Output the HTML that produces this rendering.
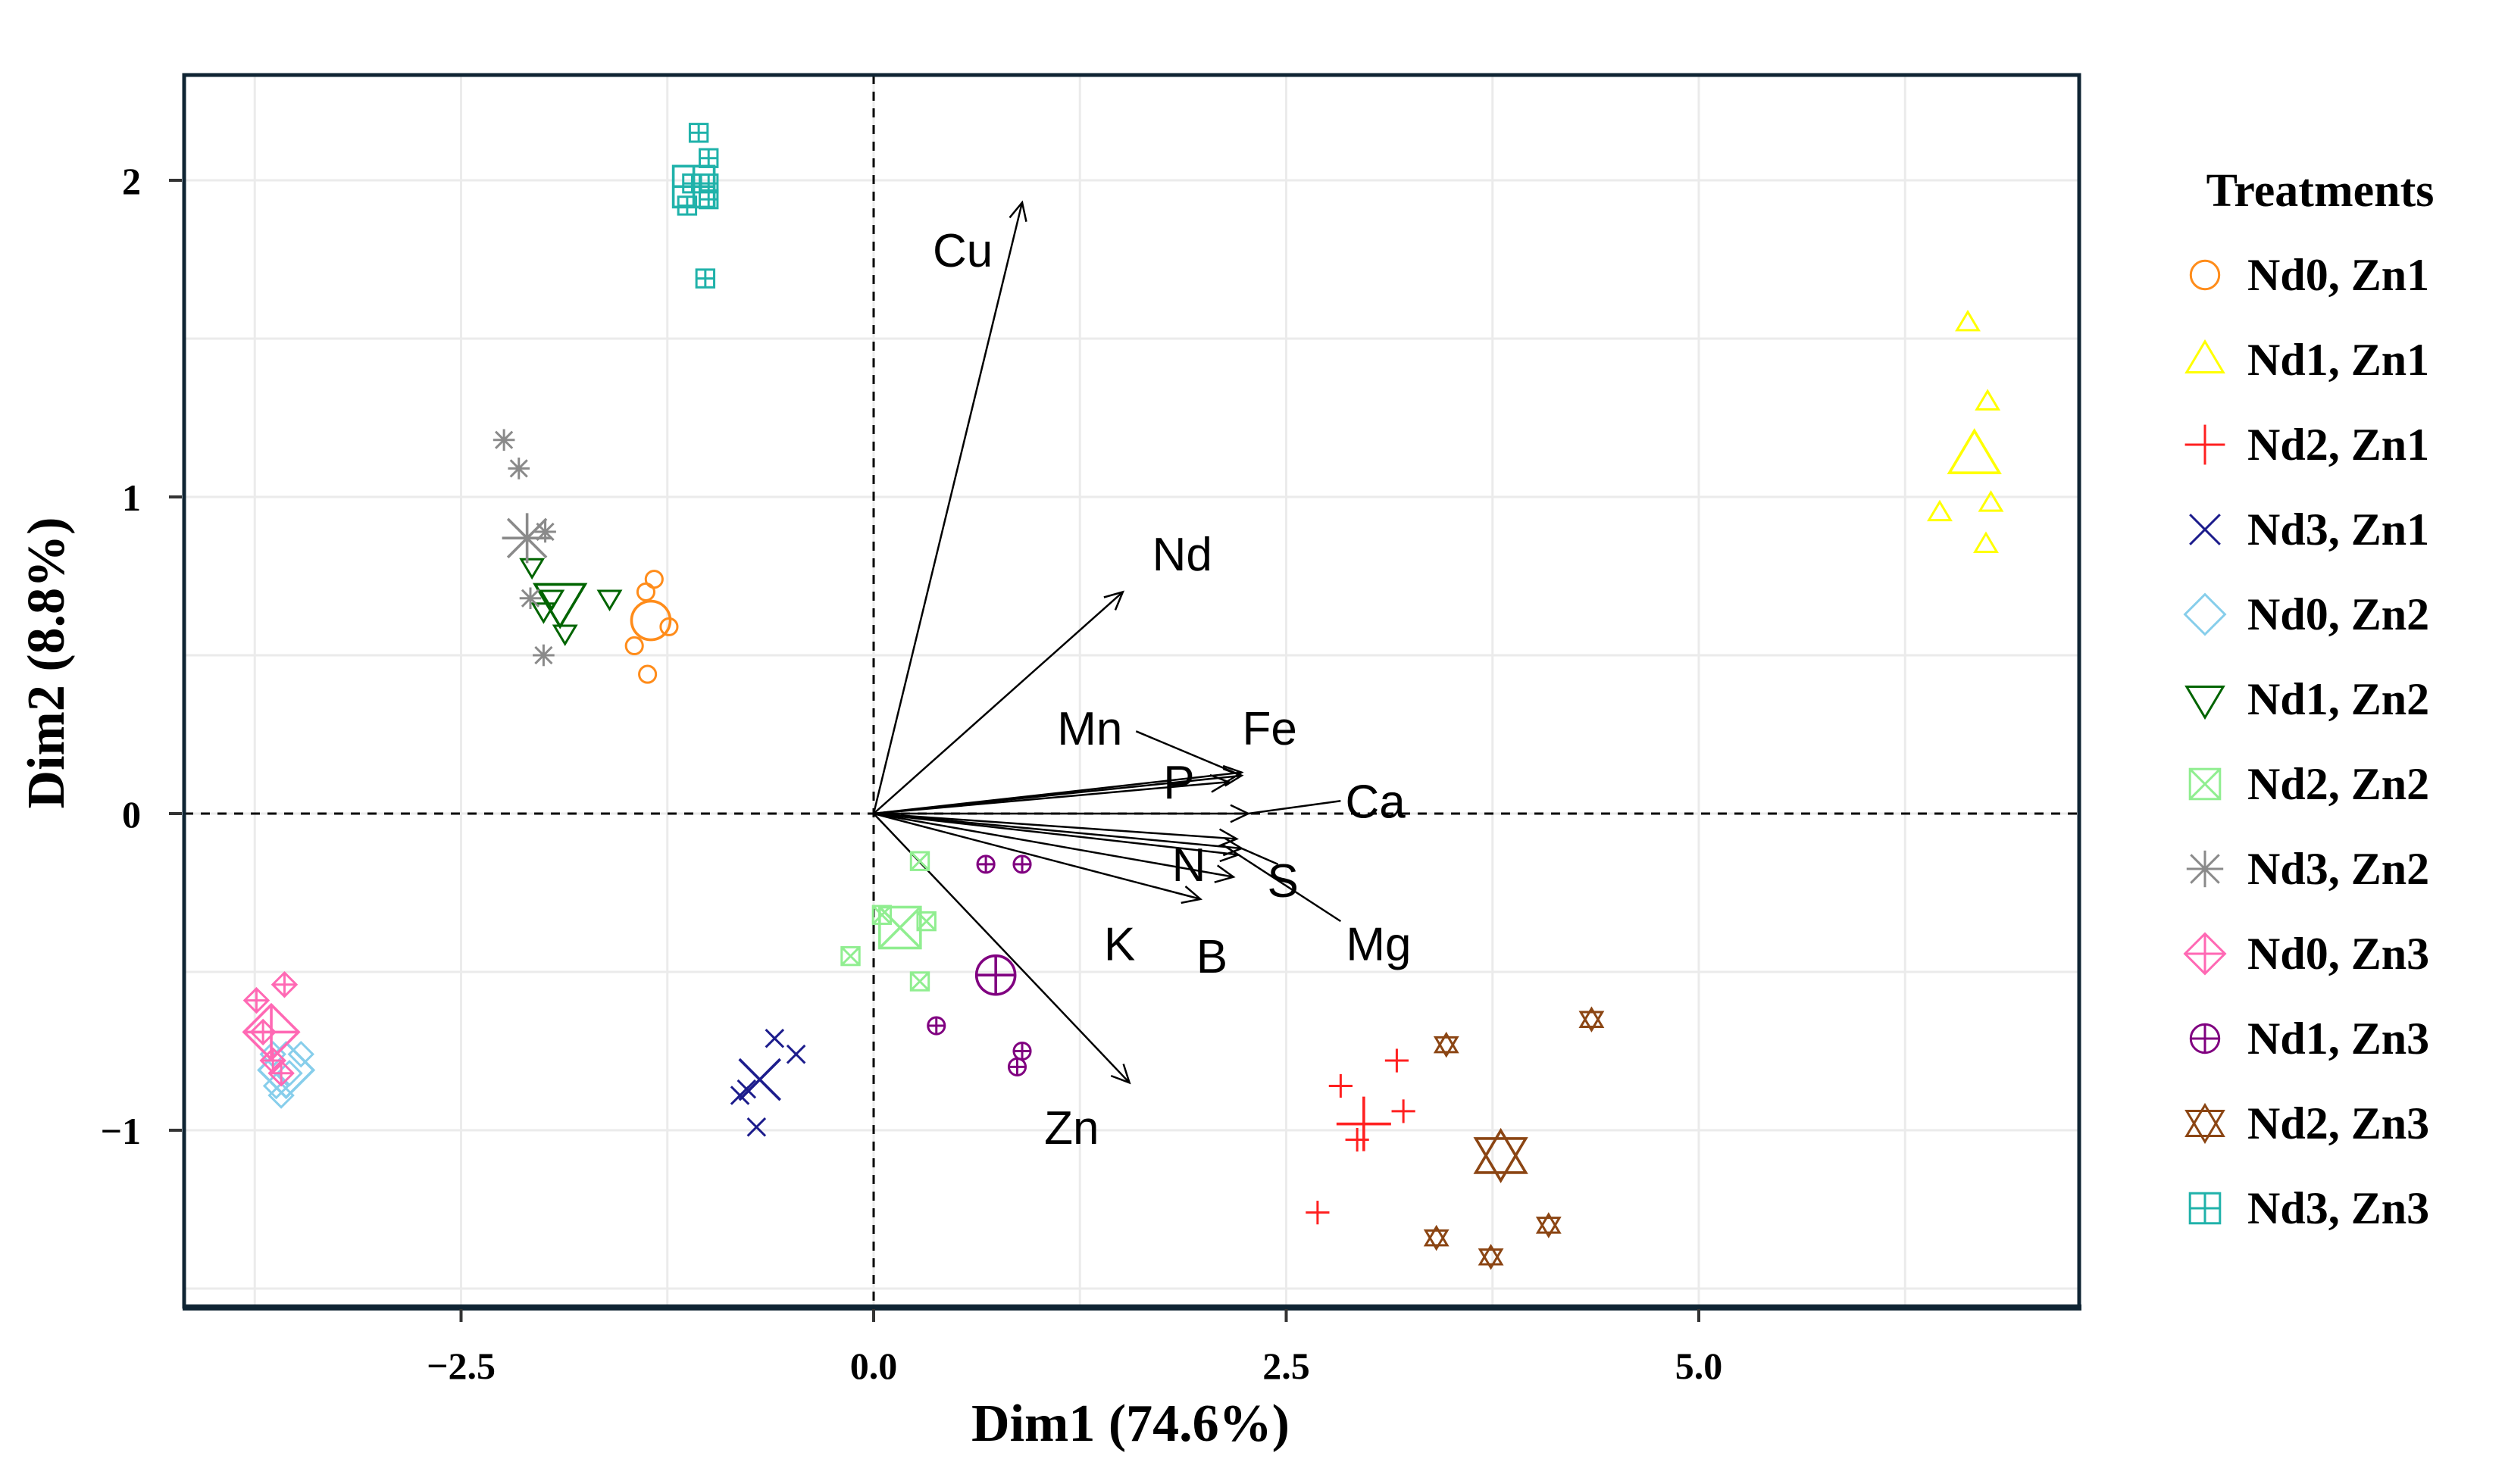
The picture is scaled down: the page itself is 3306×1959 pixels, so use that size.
<!DOCTYPE html>
<html><head><meta charset="utf-8">
<style>
html,body{margin:0;padding:0;background:#fff;}
svg{display:block;}
</style></head>
<body>
<svg id="chart" width="3306" height="1959" viewBox="0 0 3306 1959" xmlns="http://www.w3.org/2000/svg">
<rect x="0" y="0" width="3306" height="1959" fill="#fff"/>
<g id="grid"></g>
<g id="zero"></g>
<g id="arrows"></g>
<g id="points"></g>
<rect x="243" y="99" width="2501" height="1626" fill="none" stroke="#0f2433" stroke-width="5"/>
<line x1="241" y1="1726" x2="2747" y2="1726" stroke="#0f2433" stroke-width="8"/>
<g id="ticks"></g>
<text x="1492" y="1902" text-anchor="middle" font-family="Liberation Serif, serif" font-weight="bold" font-size="70">Dim1 (74.6%)</text>
<text transform="translate(84,875) rotate(-90)" text-anchor="middle" font-family="Liberation Serif, serif" font-weight="bold" font-size="70">Dim2 (8.8%)</text>
<g id="legend">
<text x="3062" y="272" text-anchor="middle" font-family="Liberation Serif, serif" font-weight="bold" font-size="62">Treatments</text>
</g>
</svg>
<script>
const groupNames = ["Nd0, Zn1","Nd1, Zn1","Nd2, Zn1","Nd3, Zn1","Nd0, Zn2","Nd1, Zn2","Nd2, Zn2","Nd3, Zn2","Nd0, Zn3","Nd1, Zn3","Nd2, Zn3","Nd3, Zn3"];
const groupColors = ["#ff8c1a","#ffff00","#ff2020","#1c1c8c","#87ceeb","#006400","#90ee90","#8a8a8a","#ff69b4","#800080","#8b4513","#20b2aa"];
const groupShapes = ["circle","triangle","plus","cross","diamond","triangleDown","squareX","asterisk","diamondPlus","circlePlus","star","squarePlus"];
const ptsX = [
 [-1.33,-1.38,-1.24,-1.45,-1.37],
 [6.63,6.75,6.77,6.46,6.74],
 [2.83,3.17,3.21,2.69,2.93],
 [-0.60,-0.47,-0.81,-0.71,-0.77],
 [-3.47,-3.62,-3.59,-3.54,-3.64],
 [-2.07,-2.00,-1.60,-1.87,-1.95],
 [0.28,0.05,0.32,-0.14,0.28],
 [-2.24,-2.15,-1.99,-2.08,-2.00],
 [-3.74,-3.57,-3.70,-3.64,-3.59],
 [0.68,0.90,0.38,0.90,0.87],
 [4.35,3.47,3.41,3.74,4.09],
 [-1.06,-1.00,-1.10,-1.00,-1.13,-1.00,-1.02]
];
const ptsY = [
 [0.74,0.70,0.59,0.53,0.44],
 [1.55,1.30,0.98,0.95,0.85],
 [-0.86,-0.78,-0.94,-1.26,-1.03],
 [-0.71,-0.76,-0.89,-0.99,-0.87],
 [-0.76,-0.86,-0.89,-0.82,-0.76],
 [0.78,0.64,0.68,0.57,0.68],
 [-0.15,-0.32,-0.34,-0.45,-0.53],
 [1.18,1.09,0.89,0.68,0.50],
 [-0.59,-0.54,-0.69,-0.78,-0.82],
 [-0.16,-0.16,-0.67,-0.75,-0.80],
 [-0.65,-0.73,-1.34,-1.40,-1.30],
 [2.15,2.07,1.99,1.99,1.92,1.94,1.69]
];
const meanX = [-1.35,6.67,2.97,-0.69,-3.56,-1.90,0.16,-2.10,-3.65,0.74,3.80,-1.09];
const meanY = [0.61,1.13,-0.98,-0.84,-0.81,0.67,-0.36,0.87,-0.69,-0.51,-1.08,1.98];

const varNames = ["Cu","Nd","Mn","Fe","P","Ca","N","S","Mg","B","K","Zn"];
const varX = [0.90,1.51,2.23,2.23,2.15,2.27,2.20,2.23,2.21,2.18,1.98,1.55];
const varY = [1.93,0.70,0.12,0.13,0.10,0.00,-0.08,-0.11,-0.13,-0.20,-0.27,-0.85];
const labelX = [0.54,1.87,1.31,2.40,1.85,3.04,1.91,2.48,3.06,2.05,1.49,1.20];
const labelY = [1.78,0.82,0.27,0.27,0.10,0.04,-0.16,-0.21,-0.41,-0.45,-0.41,-0.99];
const segNames = ["Mn","Ca","Mg","S"];
const segX = [1.59,2.83,2.83,2.45];
const segY = [0.26,0.04,-0.34,-0.16];

const xTicks = [-2.5,0,2.5,5];
const xTickLabels = ["\u22122.5","0.0","2.5","5.0"];
const yTicks = [-1,0,1,2];
const yTickLabels = ["\u22121","0","1","2"];
const xGrid = [-3.75,-2.5,-1.25,0,1.25,2.5,3.75,5,6.25];
const yGrid = [-1.5,-1,-0.5,0,0.5,1,1.5,2];

const NS = "http://www.w3.org/2000/svg";
const X0=1153, XS=217.8, Y0=1074, YS=418;
const L=243, R=2744, T=99, B=1725;
function sx(v){return X0+XS*v;}
function sy(v){return Y0-YS*v;}
function mk(tag, attrs, parent){const e=document.createElementNS(NS,tag);for(const k in attrs)e.setAttribute(k,attrs[k]);parent.appendChild(e);return e;}

const grid=document.getElementById('grid');
xGrid.forEach(v=>{const l=mk('line',{x1:sx(v),x2:sx(v),y1:T,y2:B,stroke:'#ebebeb','stroke-width':3},grid);

});
yGrid.forEach(v=>{const l=mk('line',{x1:L,x2:R,y1:sy(v),y2:sy(v),stroke:'#ebebeb','stroke-width':3},grid);

});

const zero=document.getElementById('zero');
const zv=mk('line',{x1:sx(0),x2:sx(0),y1:T,y2:B,stroke:'#000','stroke-width':3,'stroke-dasharray':'12,10'},zero);


const zh=mk('line',{x1:L,x2:R,y1:sy(0),y2:sy(0),stroke:'#000','stroke-width':3,'stroke-dasharray':'12,10'},zero);



const ticks=document.getElementById('ticks');
xTicks.forEach((v,i)=>{
 const l=mk('line',{x1:sx(v),x2:sx(v),y1:B+3,y2:B+20,stroke:'#333','stroke-width':4},ticks);
 
 
 const t=mk('text',{x:sx(v),y:1820,'text-anchor':'middle','font-family':'Liberation Serif, serif','font-weight':'bold','font-size':50},ticks);
 t.textContent=xTickLabels[i];
 
 
});
yTicks.forEach((v,i)=>{
 const l=mk('line',{x1:L-20,x2:L-3,y1:sy(v),y2:sy(v),stroke:'#333','stroke-width':4},ticks);
 
 
 const t=mk('text',{x:186,y:sy(v)+18,'text-anchor':'end','font-family':'Liberation Serif, serif','font-weight':'bold','font-size':50},ticks);
 t.textContent=yTickLabels[i];
 
 
});

function drawShape(shape,cx,cy,r,color,parent){
 const g=mk('g',{fill:'none',stroke:color,'stroke-width':Math.max(3,r*0.12)},parent);
 const h=r*0.9;
 const sq=()=>mk('rect',{x:cx-h,y:cy-h,width:2*h,height:2*h},g);
 const dia=()=>mk('polygon',{points:`${cx},${cy-r*1.2} ${cx+r*1.2},${cy} ${cx},${cy+r*1.2} ${cx-r*1.2},${cy}`},g);
 const plus=(s)=>{mk('line',{x1:cx-s,x2:cx+s,y1:cy,y2:cy},g);mk('line',{x1:cx,x2:cx,y1:cy-s,y2:cy+s},g);};
 const cross=(s)=>{mk('line',{x1:cx-s,x2:cx+s,y1:cy-s,y2:cy+s},g);mk('line',{x1:cx-s,x2:cx+s,y1:cy+s,y2:cy-s},g);};
 const up=()=>mk('polygon',{points:`${cx},${cy-r*1.1} ${cx+r*1.1},${cy+r*0.75} ${cx-r*1.1},${cy+r*0.75}`},g);
 const down=()=>mk('polygon',{points:`${cx},${cy+r*1.1} ${cx+r*1.1},${cy-r*0.75} ${cx-r*1.1},${cy-r*0.75}`},g);
 switch(shape){
  case 'circle': mk('circle',{cx:cx,cy:cy,r:r*0.85},g); break;
  case 'triangle': up(); break;
  case 'plus': plus(r*1.2); break;
  case 'cross': cross(r*0.9); break;
  case 'diamond': dia(); break;
  case 'triangleDown': down(); break;
  case 'squareX': sq(); cross(h); break;
  case 'asterisk': plus(r*1.1); cross(r*0.85); break;
  case 'diamondPlus': dia(); plus(r*1.2); break;
  case 'circlePlus': mk('circle',{cx:cx,cy:cy,r:r*0.85},g); plus(r*0.85); break;
  case 'star': up(); down(); break;
  case 'squarePlus': sq(); plus(h); break;
 }
 return g;
}

const pts=document.getElementById('points');
groupNames.forEach((gname,gi)=>{
 ptsX[gi].forEach((xv,j)=>{
  const p=drawShape(groupShapes[gi],sx(xv),sy(ptsY[gi][j]),13,groupColors[gi],pts);
  
  
 });
 const m=drawShape(groupShapes[gi],sx(meanX[gi]),sy(meanY[gi]),30,groupColors[gi],pts);
 
 
});

const arr=document.getElementById('arrows');
varNames.forEach((n,i)=>{
 const x1=sx(0),y1=sy(0),x2=sx(varX[i]),y2=sy(varY[i]);
 const a=Math.atan2(y2-y1,x2-x1),hl=26,ha=0.45;
 const g=mk('g',{stroke:'#000','stroke-width':2.5,fill:'none'},arr);
 
 
 mk('line',{x1:x1,y1:y1,x2:x2,y2:y2},g);
 mk('polyline',{points:`${x2-hl*Math.cos(a-ha)},${y2-hl*Math.sin(a-ha)} ${x2},${y2} ${x2-hl*Math.cos(a+ha)},${y2-hl*Math.sin(a+ha)}`},g);
 const t=mk('text',{x:sx(labelX[i]),y:sy(labelY[i])+22,'text-anchor':'middle','font-family':'Liberation Sans, sans-serif','font-size':62,fill:'#000'},arr);
 t.textContent=n;
 
 
});
segNames.forEach((n,i)=>{
 const vi=varNames.indexOf(n);
 const s=mk('line',{x1:sx(segX[i]),y1:sy(segY[i]),x2:sx(varX[vi]),y2:sy(varY[vi]),stroke:'#000','stroke-width':2.5},arr);
 
 
});

const leg=document.getElementById('legend');
groupNames.forEach((gname,gi)=>{
 const y=363+112*gi;
 const g=mk('g',{},leg);
 
 
 drawShape(groupShapes[gi],2910,y,22,groupColors[gi],g);
 const t=mk('text',{x:2966,y:y+20,'font-family':'Liberation Serif, serif','font-weight':'bold','font-size':60},g);
 t.textContent=gname;
 
 
});
</script>
</body></html>
